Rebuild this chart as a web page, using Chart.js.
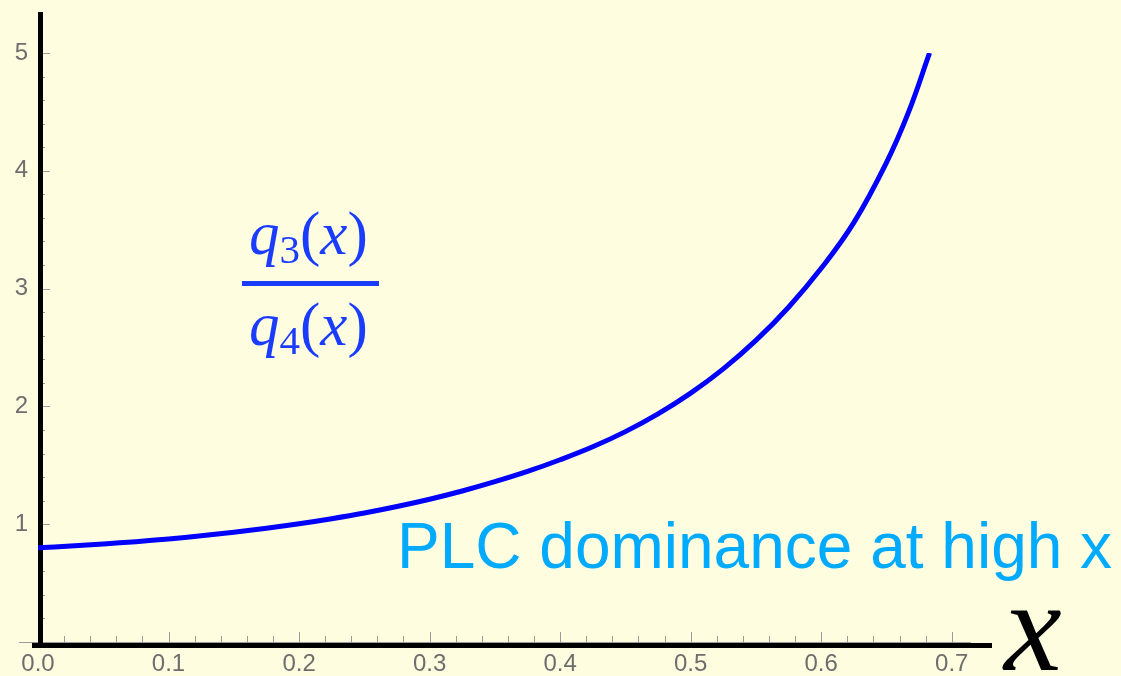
<!DOCTYPE html>
<html>
<head>
<meta charset="utf-8">
<title>q3/q4 ratio</title>
<script src="https://cdn.jsdelivr.net/npm/chart.js@4.4.0/dist/chart.umd.min.js"></script>
<style>
    html, body { margin: 0; padding: 0; background: #fffde0; }
    #wrap { position: relative; width: 1121px; height: 676px; }
</style>
</head>
<body>
<div id="wrap"><canvas id="chart" width="1121" height="676"></canvas></div>
<script>
// values
const xValues = [0, 0.025, 0.05, 0.075, 0.1, 0.125, 0.15, 0.175, 0.2, 0.225, 0.25, 0.275, 0.3, 0.325,
    0.35, 0.375, 0.4, 0.425, 0.45, 0.475, 0.5, 0.525, 0.55, 0.575, 0.6, 0.625, 0.65, 0.667, 0.683];
const ratioValues = [0.800, 0.815, 0.832, 0.852, 0.875, 0.902, 0.932, 0.966, 1.004, 1.047, 1.095, 1.150, 1.212, 1.282,
    1.361, 1.448, 1.547, 1.657, 1.786, 1.937, 2.113, 2.319, 2.560, 2.842, 3.172, 3.560, 4.070, 4.500, 5.000];

const xTicks = [0, 0.1, 0.2, 0.3, 0.4, 0.5, 0.6, 0.7];
const yTicks = [1, 2, 3, 4, 5];

const curveNote = 'PLC dominance at high x';
const axisName = 'x';

const tickGray = '#6e6e6e';
const axisGray = '#9a9a9a';
const mathBlue = '#1a3cff';

// Mathematica-like decorations: inward ticks, thick axes, annotations
const decor = {
    id: 'decor',
    beforeDraw(chart) {
        const ctx = chart.ctx;
        ctx.save();
        ctx.fillStyle = '#fffde0';
        ctx.fillRect(0, 0, chart.width, chart.height);
        ctx.restore();
    },
    beforeDatasetsDraw(chart) {
        const ctx = chart.ctx;
        const xs = chart.scales.x;
        const ys = chart.scales.y;
        const x0 = xs.getPixelForValue(0);
        const y0 = ys.getPixelForValue(0);

        ctx.save();
        ctx.strokeStyle = axisGray;
        ctx.lineWidth = 1;

        // gray x axis continues a little left of the y axis
        ctx.beginPath();
        ctx.moveTo(19, y0 + 0.5);
        ctx.lineTo(x0, y0 + 0.5);
        ctx.stroke();

        // x ticks, pointing up
        for (let i = 1; i <= 35; i++) {
            const v = i * 0.02;
            const px = Math.round(xs.getPixelForValue(v)) + 0.5;
            const len = i % 5 === 0 ? 10 : 6;
            ctx.beginPath();
            ctx.moveTo(px, y0);
            ctx.lineTo(px, y0 - len);
            ctx.stroke();
        }
        // y ticks, pointing right
        for (let i = 1; i <= 25; i++) {
            const v = i * 0.2;
            const py = Math.round(ys.getPixelForValue(v)) + 0.5;
            const len = i % 5 === 0 ? 12 : 7;
            ctx.beginPath();
            ctx.moveTo(x0, py);
            ctx.lineTo(x0 + len, py);
            ctx.stroke();
        }

        // thick black axes on top
        ctx.fillStyle = '#000';
        ctx.fillRect(x0, 12, 5, y0 + 6 - 12);
        ctx.fillRect(32, y0 + 1, 992 - 32, 5);
        ctx.restore();
    },
    afterDraw(chart) {
        const ctx = chart.ctx;
        ctx.save();

        // note under the curve
        ctx.fillStyle = '#00aaff';
        ctx.font = '64px "Liberation Sans", Arial, sans-serif';
        ctx.textBaseline = 'alphabetic';
        ctx.fillText(curveNote, 397, 568);

        // q3(x) / q4(x)
        ctx.fillStyle = mathBlue;
        drawQ(ctx, 249, 254, '3');
        ctx.fillRect(242, 281, 137, 5);
        drawQ(ctx, 249, 345, '4');

        // axis name
        ctx.fillStyle = '#000';
        ctx.font = 'italic 130px "Liberation Serif", serif';
        ctx.fillText(axisName, 1004, 670);
        ctx.restore();
    }
};

function drawQ(ctx, x, base, sub) {
    const serif = '"Liberation Serif", "Times New Roman", serif';
    ctx.font = 'italic 61px ' + serif;
    ctx.fillText('q', x, base);
    x += ctx.measureText('q').width;
    ctx.font = '41px ' + serif;
    ctx.fillText(sub, x, base + 9);
    x += ctx.measureText(sub).width;
    ctx.font = '61px ' + serif;
    ctx.fillText('(', x, base);
    x += ctx.measureText('(').width;
    ctx.font = 'italic 61px ' + serif;
    ctx.fillText('x', x, base);
    x += ctx.measureText('x').width;
    ctx.font = '61px ' + serif;
    ctx.fillText(')', x, base);
}

const tickFont = { family: '"Liberation Sans", Arial, sans-serif', size: 24 };

new Chart(document.getElementById('chart'), {
    type: 'line',
    data: {
        datasets: [{
            data: xValues.map((x, i) => ({ x: x, y: ratioValues[i] })),
            borderColor: '#0000ff',
            borderWidth: 5,
            pointRadius: 0,
            fill: false,
            tension: 0.4
        }]
    },
    options: {
        responsive: false,
        animation: false,
        devicePixelRatio: 1,
        layout: { padding: { top: 53, right: 151, left: 0, bottom: 0 } },
        plugins: { legend: { display: false }, tooltip: { enabled: false } },
        scales: {
            x: {
                type: 'linear',
                min: 0,
                max: 0.714,
                grid: { display: false, drawTicks: false },
                border: { display: true, color: axisGray, width: 1 },
                ticks: {
                    font: tickFont,
                    color: tickGray,
                    padding: 8,
                    maxRotation: 0,
                    autoSkip: false,
                    callback: v => v.toFixed(1)
                },
                afterBuildTicks: s => { s.ticks = xTicks.map(v => ({ value: v })); },
                afterFit: s => { s.height = 34; }
            },
            y: {
                type: 'linear',
                min: 0,
                max: 5,
                grid: { display: false, drawTicks: false },
                border: { display: true, color: axisGray, width: 1 },
                ticks: {
                    font: tickFont,
                    color: tickGray,
                    padding: 10,
                    autoSkip: false,
                    callback: v => String(v)
                },
                afterBuildTicks: s => { s.ticks = yTicks.map(v => ({ value: v })); },
                afterFit: s => { s.width = 38; }
            }
        }
    },
    plugins: [decor]
});
</script>
</body>
</html>
